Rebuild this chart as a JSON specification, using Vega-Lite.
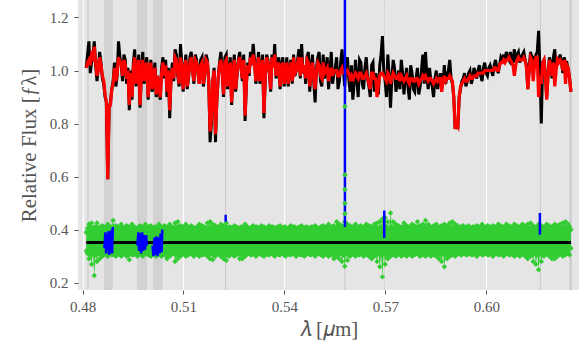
{
"$schema":"https://vega.github.io/schema/vega-lite/v6.json",
"width":501,"height":290,
"autosize":{"type":"none"},
"padding":{"left":78,"top":0,"right":5,"bottom":57},
"background":"white",
"config":{"view":{"fill":"#e5e5e5","stroke":null},
"axis":{"labelFont":"Liberation Serif","titleFont":"Liberation Serif","labelFontSize":15,"titleFontSize":21,"labelColor":"#555555","titleColor":"#555555","titleFontWeight":"normal","tickColor":"#555555","tickSize":4,"domain":false,"gridColor":"#ffffff","gridWidth":1.2}},
"datasets":{
"spec":[
{"w":0.4811,"o":1.01,"m":1.01,"h":0.39,"l":0.32},
{"w":0.4819,"o":1.11,"m":1.04,"h":0.42,"l":0.29},
{"w":0.4827,"o":1.03,"m":1.06,"h":0.425,"l":0.27},
{"w":0.4835,"o":1.11,"m":1.09,"h":0.41,"l":0.227},
{"w":0.4843,"o":0.96,"m":0.98,"h":0.425,"l":0.28},
{"w":0.4851,"o":1.07,"m":1.05,"h":0.41,"l":0.29},
{"w":0.4859,"o":0.97,"m":0.98,"h":0.415,"l":0.30},
{"w":0.4867,"o":0.90,"m":0.91,"h":0.41,"l":0.31},
{"w":0.4875,"o":0.59,"m":0.59,"h":0.42,"l":0.30},
{"w":0.4883,"o":0.88,"m":0.87,"h":0.41,"l":0.31},
{"w":0.4891,"o":0.96,"m":0.95,"h":0.435,"l":0.305},
{"w":0.4899,"o":0.94,"m":0.96,"h":0.415,"l":0.30},
{"w":0.4907,"o":1.11,"m":1.05,"h":0.41,"l":0.31},
{"w":0.4915,"o":1.02,"m":1.03,"h":0.42,"l":0.30},
{"w":0.4923,"o":1.06,"m":1.04,"h":0.405,"l":0.31},
{"w":0.4931,"o":0.95,"m":0.97,"h":0.415,"l":0.30},
{"w":0.4939,"o":0.85,"m":0.87,"h":0.41,"l":0.287},
{"w":0.4947,"o":0.89,"m":0.90,"h":0.42,"l":0.305},
{"w":0.4955,"o":1.08,"m":1.05,"h":0.41,"l":0.31},
{"w":0.4963,"o":1.00,"m":1.01,"h":0.405,"l":0.30},
{"w":0.4971,"o":0.86,"m":0.87,"h":0.415,"l":0.31},
{"w":0.4979,"o":1.07,"m":1.04,"h":0.41,"l":0.30},
{"w":0.4987,"o":1.02,"m":1.01,"h":0.42,"l":0.31},
{"w":0.4995,"o":0.89,"m":0.90,"h":0.41,"l":0.305},
{"w":0.5003,"o":1.04,"m":1.03,"h":0.415,"l":0.30},
{"w":0.5011,"o":0.97,"m":0.98,"h":0.405,"l":0.31},
{"w":0.5019,"o":0.90,"m":0.91,"h":0.41,"l":0.30},
{"w":0.5027,"o":0.93,"m":0.94,"h":0.42,"l":0.31},
{"w":0.5035,"o":1.01,"m":0.99,"h":0.41,"l":0.30},
{"w":0.5043,"o":0.97,"m":0.98,"h":0.415,"l":0.305},
{"w":0.5051,"o":0.90,"m":0.92,"h":0.41,"l":0.29},
{"w":0.5059,"o":0.82,"m":0.85,"h":0.42,"l":0.30},
{"w":0.5067,"o":1.03,"m":1.01,"h":0.41,"l":0.31},
{"w":0.5075,"o":1.08,"m":1.05,"h":0.425,"l":0.28},
{"w":0.5083,"o":0.98,"m":0.99,"h":0.43,"l":0.29},
{"w":0.5091,"o":1.10,"m":1.05,"h":0.415,"l":0.30},
{"w":0.5099,"o":0.92,"m":0.93,"h":0.41,"l":0.31},
{"w":0.5107,"o":1.06,"m":1.04,"h":0.42,"l":0.30},
{"w":0.5115,"o":0.97,"m":0.98,"h":0.41,"l":0.305},
{"w":0.5123,"o":1.07,"m":1.05,"h":0.415,"l":0.31},
{"w":0.5131,"o":0.95,"m":0.96,"h":0.405,"l":0.30},
{"w":0.5139,"o":1.04,"m":1.03,"h":0.41,"l":0.31},
{"w":0.5147,"o":0.95,"m":0.95,"h":0.42,"l":0.30},
{"w":0.5155,"o":1.05,"m":1.03,"h":0.415,"l":0.305},
{"w":0.5163,"o":0.98,"m":0.99,"h":0.41,"l":0.31},
{"w":0.5171,"o":1.04,"m":1.03,"h":0.425,"l":0.30},
{"w":0.5179,"o":0.73,"m":0.77,"h":0.43,"l":0.29},
{"w":0.5187,"o":0.96,"m":0.96,"h":0.42,"l":0.287},
{"w":0.5195,"o":0.73,"m":0.76,"h":0.415,"l":0.30},
{"w":0.5203,"o":0.97,"m":0.97,"h":0.41,"l":0.31},
{"w":0.5211,"o":1.07,"m":1.04,"h":0.42,"l":0.30},
{"w":0.5219,"o":0.90,"m":0.91,"h":0.415,"l":0.29},
{"w":0.5227,"o":1.06,"m":1.04,"h":0.425,"l":0.284},
{"w":0.5235,"o":1.01,"m":1.00,"h":0.41,"l":0.30},
{"w":0.5243,"o":0.87,"m":0.88,"h":0.405,"l":0.31},
{"w":0.5251,"o":1.06,"m":1.04,"h":0.415,"l":0.30},
{"w":0.5259,"o":0.98,"m":0.99,"h":0.41,"l":0.305},
{"w":0.5267,"o":1.07,"m":1.05,"h":0.405,"l":0.29},
{"w":0.5275,"o":0.96,"m":0.97,"h":0.41,"l":0.29},
{"w":0.5283,"o":0.81,"m":0.83,"h":0.42,"l":0.30},
{"w":0.5291,"o":1.03,"m":1.02,"h":0.41,"l":0.31},
{"w":0.5299,"o":1.07,"m":1.05,"h":0.405,"l":0.305},
{"w":0.5307,"o":1.10,"m":1.06,"h":0.415,"l":0.31},
{"w":0.5315,"o":0.95,"m":0.96,"h":0.41,"l":0.30},
{"w":0.5323,"o":1.07,"m":1.05,"h":0.405,"l":0.31},
{"w":0.5331,"o":1.01,"m":1.01,"h":0.415,"l":0.305},
{"w":0.5339,"o":0.82,"m":0.84,"h":0.41,"l":0.30},
{"w":0.5347,"o":1.06,"m":1.05,"h":0.405,"l":0.31},
{"w":0.5355,"o":0.99,"m":1.00,"h":0.415,"l":0.305},
{"w":0.5363,"o":1.06,"m":1.05,"h":0.41,"l":0.31},
{"w":0.5371,"o":1.10,"m":1.06,"h":0.405,"l":0.30},
{"w":0.5379,"o":1.00,"m":1.00,"h":0.41,"l":0.31},
{"w":0.5387,"o":0.93,"m":0.94,"h":0.415,"l":0.305},
{"w":0.5395,"o":1.05,"m":1.03,"h":0.405,"l":0.31},
{"w":0.5403,"o":0.99,"m":1.00,"h":0.41,"l":0.30},
{"w":0.5411,"o":0.94,"m":0.95,"h":0.405,"l":0.31},
{"w":0.5419,"o":1.04,"m":1.03,"h":0.415,"l":0.305},
{"w":0.5427,"o":1.06,"m":1.05,"h":0.41,"l":0.31},
{"w":0.5435,"o":1.00,"m":1.00,"h":0.405,"l":0.30},
{"w":0.5443,"o":1.08,"m":1.05,"h":0.41,"l":0.31},
{"w":0.5451,"o":1.10,"m":1.05,"h":0.415,"l":0.305},
{"w":0.5459,"o":1.02,"m":1.02,"h":0.405,"l":0.30},
{"w":0.5467,"o":1.05,"m":1.04,"h":0.41,"l":0.31},
{"w":0.5475,"o":0.92,"m":0.94,"h":0.405,"l":0.305},
{"w":0.5483,"o":1.06,"m":1.03,"h":0.41,"l":0.31},
{"w":0.5491,"o":0.88,"m":0.93,"h":0.415,"l":0.30},
{"w":0.5499,"o":1.05,"m":1.03,"h":0.405,"l":0.31},
{"w":0.5507,"o":0.96,"m":0.98,"h":0.41,"l":0.305},
{"w":0.5515,"o":1.06,"m":1.03,"h":0.415,"l":0.30},
{"w":0.5523,"o":1.00,"m":1.00,"h":0.41,"l":0.31},
{"w":0.5531,"o":0.93,"m":0.96,"h":0.42,"l":0.30},
{"w":0.5539,"o":1.07,"m":1.01,"h":0.41,"l":0.305},
{"w":0.5547,"o":0.99,"m":1.00,"h":0.415,"l":0.29},
{"w":0.5555,"o":1.05,"m":1.00,"h":0.43,"l":0.30},
{"w":0.5563,"o":0.96,"m":0.98,"h":0.42,"l":0.29},
{"w":0.5571,"o":1.08,"m":1.01,"h":0.415,"l":0.28},
{"w":0.5579,"o":0.94,"m":0.99,"h":0.43,"l":0.262},
{"w":0.5587,"o":1.05,"m":1.00,"h":0.42,"l":0.285},
{"w":0.5595,"o":0.92,"m":0.97,"h":0.415,"l":0.30},
{"w":0.5603,"o":0.89,"m":0.96,"h":0.41,"l":0.31},
{"w":0.5611,"o":1.04,"m":0.99,"h":0.42,"l":0.30},
{"w":0.5619,"o":0.90,"m":0.97,"h":0.41,"l":0.305},
{"w":0.5627,"o":1.03,"m":0.99,"h":0.415,"l":0.31},
{"w":0.5635,"o":0.93,"m":0.97,"h":0.41,"l":0.30},
{"w":0.5643,"o":1.05,"m":0.99,"h":0.42,"l":0.305},
{"w":0.5651,"o":0.94,"m":0.95,"h":0.415,"l":0.30},
{"w":0.5659,"o":1.02,"m":0.99,"h":0.41,"l":0.29},
{"w":0.5667,"o":0.92,"m":0.97,"h":0.42,"l":0.30},
{"w":0.5675,"o":0.95,"m":0.90,"h":0.425,"l":0.28},
{"w":0.5683,"o":1.02,"m":0.98,"h":0.43,"l":0.26},
{"w":0.5691,"o":1.13,"m":0.99,"h":0.44,"l":0.222},
{"w":0.5699,"o":0.96,"m":0.97,"h":0.445,"l":0.27},
{"w":0.5707,"o":1.06,"m":0.99,"h":0.43,"l":0.29},
{"w":0.5715,"o":0.86,"m":0.95,"h":0.463,"l":0.30},
{"w":0.5723,"o":1.04,"m":0.99,"h":0.43,"l":0.305},
{"w":0.5731,"o":0.92,"m":0.97,"h":0.42,"l":0.30},
{"w":0.5739,"o":1.00,"m":0.98,"h":0.415,"l":0.31},
{"w":0.5747,"o":1.04,"m":0.98,"h":0.41,"l":0.30},
{"w":0.5755,"o":0.91,"m":0.96,"h":0.425,"l":0.305},
{"w":0.5763,"o":1.01,"m":0.98,"h":0.415,"l":0.30},
{"w":0.5771,"o":0.89,"m":0.95,"h":0.41,"l":0.31},
{"w":0.5779,"o":0.99,"m":0.97,"h":0.42,"l":0.30},
{"w":0.5787,"o":0.92,"m":0.96,"h":0.415,"l":0.305},
{"w":0.5795,"o":1.01,"m":0.97,"h":0.43,"l":0.31},
{"w":0.5803,"o":0.94,"m":0.96,"h":0.415,"l":0.30},
{"w":0.5811,"o":1.06,"m":0.98,"h":0.42,"l":0.305},
{"w":0.5819,"o":1.07,"m":0.98,"h":0.435,"l":0.30},
{"w":0.5827,"o":0.93,"m":0.96,"h":0.42,"l":0.31},
{"w":0.5835,"o":0.96,"m":0.97,"h":0.41,"l":0.30},
{"w":0.5843,"o":0.90,"m":0.95,"h":0.415,"l":0.305},
{"w":0.5851,"o":1.00,"m":0.97,"h":0.42,"l":0.30},
{"w":0.5859,"o":0.96,"m":0.97,"h":0.41,"l":0.29},
{"w":0.5867,"o":0.93,"m":0.92,"h":0.415,"l":0.28},
{"w":0.5875,"o":1.02,"m":0.98,"h":0.42,"l":0.26},
{"w":0.5883,"o":0.98,"m":0.97,"h":0.415,"l":0.29},
{"w":0.5891,"o":1.04,"m":0.98,"h":0.425,"l":0.30},
{"w":0.5899,"o":0.95,"m":0.96,"h":0.43,"l":0.305},
{"w":0.5907,"o":0.78,"m":0.78,"h":0.42,"l":0.30},
{"w":0.5915,"o":0.78,"m":0.79,"h":0.415,"l":0.31},
{"w":0.5923,"o":0.93,"m":0.94,"h":0.41,"l":0.305},
{"w":0.5931,"o":0.97,"m":0.96,"h":0.415,"l":0.31},
{"w":0.5939,"o":0.94,"m":0.96,"h":0.41,"l":0.305},
{"w":0.5947,"o":0.99,"m":0.97,"h":0.415,"l":0.31},
{"w":0.5955,"o":0.95,"m":0.97,"h":0.405,"l":0.305},
{"w":0.5963,"o":1.01,"m":0.98,"h":0.41,"l":0.31},
{"w":0.5971,"o":0.97,"m":0.98,"h":0.415,"l":0.30},
{"w":0.5979,"o":1.02,"m":0.99,"h":0.41,"l":0.31},
{"w":0.5987,"o":0.96,"m":0.99,"h":0.42,"l":0.305},
{"w":0.5995,"o":1.03,"m":1.00,"h":0.41,"l":0.31},
{"w":0.6003,"o":0.98,"m":1.00,"h":0.415,"l":0.305},
{"w":0.6011,"o":1.02,"m":1.00,"h":0.41,"l":0.31},
{"w":0.6019,"o":0.98,"m":1.00,"h":0.415,"l":0.30},
{"w":0.6027,"o":1.04,"m":1.01,"h":0.41,"l":0.31},
{"w":0.6035,"o":0.99,"m":1.00,"h":0.42,"l":0.305},
{"w":0.6043,"o":1.05,"m":1.03,"h":0.415,"l":0.31},
{"w":0.6051,"o":1.06,"m":1.04,"h":0.41,"l":0.30},
{"w":0.6059,"o":1.07,"m":1.04,"h":0.42,"l":0.31},
{"w":0.6067,"o":1.04,"m":1.05,"h":0.415,"l":0.305},
{"w":0.6075,"o":1.02,"m":1.03,"h":0.41,"l":0.31},
{"w":0.6083,"o":1.08,"m":0.98,"h":0.42,"l":0.30},
{"w":0.6091,"o":1.06,"m":1.04,"h":0.415,"l":0.305},
{"w":0.6099,"o":1.03,"m":1.04,"h":0.41,"l":0.30},
{"w":0.6107,"o":1.06,"m":1.04,"h":0.42,"l":0.31},
{"w":0.6115,"o":1.04,"m":1.04,"h":0.415,"l":0.30},
{"w":0.6123,"o":0.93,"m":0.93,"h":0.42,"l":0.29},
{"w":0.6131,"o":1.07,"m":1.05,"h":0.425,"l":0.30},
{"w":0.6139,"o":1.05,"m":0.96,"h":0.415,"l":0.28},
{"w":0.6147,"o":1.06,"m":1.05,"h":0.41,"l":0.27},
{"w":0.6155,"o":1.15,"m":0.90,"h":0.42,"l":0.249},
{"w":0.6163,"o":0.80,"m":0.95,"h":0.415,"l":0.28},
{"w":0.6171,"o":1.04,"m":1.04,"h":0.41,"l":0.30},
{"w":0.6179,"o":0.90,"m":0.89,"h":0.42,"l":0.31},
{"w":0.6187,"o":1.05,"m":1.04,"h":0.415,"l":0.30},
{"w":0.6195,"o":0.97,"m":0.98,"h":0.41,"l":0.29},
{"w":0.6203,"o":1.08,"m":0.94,"h":0.42,"l":0.29},
{"w":0.6211,"o":1.03,"m":1.04,"h":0.415,"l":0.30},
{"w":0.6219,"o":1.06,"m":1.04,"h":0.42,"l":0.31},
{"w":0.6227,"o":0.99,"m":1.00,"h":0.425,"l":0.30},
{"w":0.6235,"o":1.03,"m":0.95,"h":0.43,"l":0.305},
{"w":0.6243,"o":1.00,"m":1.01,"h":0.42,"l":0.31},
{"w":0.6251,"o":0.92,"m":0.92,"h":0.40,"l":0.33},
{"w":0.4815,"o":1.06,"m":1.03,"h":0.405,"l":0.31},
{"w":0.4823,"o":0.99,"m":1.02,"h":0.41,"l":0.305},
{"w":0.4831,"o":1.06,"m":1.05,"h":0.405,"l":0.31},
{"w":0.4839,"o":1.02,"m":1.03,"h":0.41,"l":0.305},
{"w":0.4847,"o":1.01,"m":1.00,"h":0.405,"l":0.31},
{"w":0.4855,"o":1.03,"m":1.02,"h":0.41,"l":0.305},
{"w":0.4863,"o":0.95,"m":0.96,"h":0.405,"l":0.31},
{"w":0.4871,"o":0.88,"m":0.88,"h":0.41,"l":0.305},
{"w":0.4879,"o":0.86,"m":0.87,"h":0.405,"l":0.31},
{"w":0.4887,"o":0.93,"m":0.93,"h":0.41,"l":0.305},
{"w":0.4895,"o":1.03,"m":1.01,"h":0.405,"l":0.31},
{"w":0.4903,"o":0.98,"m":0.99,"h":0.41,"l":0.305},
{"w":0.4911,"o":1.05,"m":1.03,"h":0.405,"l":0.31},
{"w":0.4919,"o":0.96,"m":0.98,"h":0.41,"l":0.305},
{"w":0.4927,"o":1.04,"m":1.02,"h":0.405,"l":0.31},
{"w":0.4935,"o":1.01,"m":1.00,"h":0.41,"l":0.305},
{"w":0.4943,"o":1.00,"m":0.99,"h":0.405,"l":0.31},
{"w":0.4951,"o":1.03,"m":1.01,"h":0.41,"l":0.305},
{"w":0.4959,"o":0.94,"m":0.95,"h":0.405,"l":0.31},
{"w":0.4967,"o":1.06,"m":1.04,"h":0.41,"l":0.305},
{"w":0.4975,"o":0.99,"m":0.99,"h":0.405,"l":0.31},
{"w":0.4983,"o":0.95,"m":0.96,"h":0.41,"l":0.305},
{"w":0.4991,"o":1.05,"m":1.03,"h":0.405,"l":0.31},
{"w":0.4999,"o":0.97,"m":0.98,"h":0.41,"l":0.305},
{"w":0.5007,"o":0.92,"m":0.93,"h":0.405,"l":0.31},
{"w":0.5015,"o":1.03,"m":1.01,"h":0.41,"l":0.305},
{"w":0.5023,"o":0.98,"m":0.98,"h":0.405,"l":0.31},
{"w":0.5031,"o":0.89,"m":0.90,"h":0.41,"l":0.305},
{"w":0.5039,"o":1.05,"m":1.03,"h":0.405,"l":0.31},
{"w":0.5047,"o":1.04,"m":1.02,"h":0.41,"l":0.305},
{"w":0.5055,"o":1.01,"m":1.00,"h":0.405,"l":0.31},
{"w":0.5063,"o":0.97,"m":0.97,"h":0.41,"l":0.305},
{"w":0.5071,"o":0.96,"m":0.97,"h":0.405,"l":0.31},
{"w":0.5079,"o":1.06,"m":1.04,"h":0.41,"l":0.305},
{"w":0.5087,"o":0.94,"m":0.95,"h":0.405,"l":0.31},
{"w":0.5095,"o":1.03,"m":1.02,"h":0.41,"l":0.305},
{"w":0.5103,"o":1.00,"m":1.00,"h":0.405,"l":0.31},
{"w":0.5111,"o":0.93,"m":0.94,"h":0.41,"l":0.305},
{"w":0.5119,"o":1.05,"m":1.03,"h":0.405,"l":0.31},
{"w":0.5127,"o":1.00,"m":1.00,"h":0.41,"l":0.305},
{"w":0.5135,"o":1.06,"m":1.04,"h":0.405,"l":0.31},
{"w":0.5143,"o":0.99,"m":0.99,"h":0.41,"l":0.305},
{"w":0.5151,"o":1.04,"m":1.02,"h":0.405,"l":0.31},
{"w":0.5159,"o":0.94,"m":0.95,"h":0.41,"l":0.305},
{"w":0.5167,"o":1.06,"m":1.04,"h":0.405,"l":0.31},
{"w":0.5175,"o":0.96,"m":0.96,"h":0.41,"l":0.305},
{"w":0.5183,"o":0.80,"m":0.82,"h":0.405,"l":0.31},
{"w":0.5191,"o":1.01,"m":1.00,"h":0.41,"l":0.305},
{"w":0.5199,"o":0.88,"m":0.89,"h":0.405,"l":0.31},
{"w":0.5207,"o":1.03,"m":1.02,"h":0.41,"l":0.305},
{"w":0.5215,"o":1.00,"m":0.99,"h":0.405,"l":0.31},
{"w":0.5223,"o":1.05,"m":1.03,"h":0.41,"l":0.305},
{"w":0.5231,"o":0.93,"m":0.94,"h":0.405,"l":0.31},
{"w":0.5239,"o":1.05,"m":1.03,"h":0.41,"l":0.305},
{"w":0.5247,"o":1.00,"m":0.99,"h":0.405,"l":0.31},
{"w":0.5255,"o":0.92,"m":0.93,"h":0.41,"l":0.305},
{"w":0.5263,"o":1.04,"m":1.03,"h":0.405,"l":0.31},
{"w":0.5271,"o":1.01,"m":1.01,"h":0.41,"l":0.305},
{"w":0.5279,"o":1.06,"m":1.04,"h":0.405,"l":0.31},
{"w":0.5287,"o":0.95,"m":0.96,"h":0.41,"l":0.305},
{"w":0.5295,"o":0.98,"m":0.99,"h":0.405,"l":0.31},
{"w":0.5303,"o":1.02,"m":1.02,"h":0.41,"l":0.305},
{"w":0.5311,"o":1.04,"m":1.03,"h":0.405,"l":0.31},
{"w":0.5319,"o":1.01,"m":1.01,"h":0.41,"l":0.305},
{"w":0.5327,"o":0.95,"m":0.96,"h":0.405,"l":0.31},
{"w":0.5335,"o":1.06,"m":1.04,"h":0.41,"l":0.305},
{"w":0.5343,"o":0.97,"m":0.98,"h":0.405,"l":0.31},
{"w":0.5351,"o":1.04,"m":1.03,"h":0.41,"l":0.305},
{"w":0.5359,"o":0.92,"m":0.93,"h":0.405,"l":0.31},
{"w":0.5367,"o":1.01,"m":1.01,"h":0.41,"l":0.305},
{"w":0.5375,"o":0.97,"m":0.98,"h":0.405,"l":0.31},
{"w":0.5383,"o":1.05,"m":1.03,"h":0.41,"l":0.305},
{"w":0.5391,"o":1.02,"m":1.01,"h":0.405,"l":0.31},
{"w":0.5399,"o":0.94,"m":0.95,"h":0.41,"l":0.305},
{"w":0.5407,"o":1.05,"m":1.03,"h":0.405,"l":0.31},
{"w":0.5415,"o":1.01,"m":1.00,"h":0.41,"l":0.305},
{"w":0.5423,"o":0.95,"m":0.96,"h":0.405,"l":0.31},
{"w":0.5431,"o":0.98,"m":0.99,"h":0.41,"l":0.305},
{"w":0.5439,"o":1.04,"m":1.03,"h":0.405,"l":0.31},
{"w":0.5447,"o":0.97,"m":0.98,"h":0.41,"l":0.305},
{"w":0.5455,"o":0.99,"m":0.99,"h":0.405,"l":0.31},
{"w":0.5463,"o":0.95,"m":0.97,"h":0.41,"l":0.305},
{"w":0.5471,"o":1.07,"m":1.03,"h":0.405,"l":0.31},
{"w":0.5479,"o":1.00,"m":0.99,"h":0.41,"l":0.305},
{"w":0.5487,"o":0.96,"m":0.97,"h":0.405,"l":0.31},
{"w":0.5495,"o":1.01,"m":1.00,"h":0.41,"l":0.305},
{"w":0.5503,"o":1.07,"m":1.02,"h":0.405,"l":0.31},
{"w":0.5511,"o":0.94,"m":0.97,"h":0.41,"l":0.305},
{"w":0.5519,"o":0.97,"m":0.99,"h":0.405,"l":0.31},
{"w":0.5527,"o":1.05,"m":1.01,"h":0.41,"l":0.305},
{"w":0.5535,"o":0.99,"m":0.99,"h":0.405,"l":0.31},
{"w":0.5543,"o":0.95,"m":0.98,"h":0.41,"l":0.305},
{"w":0.5551,"o":1.01,"m":1.00,"h":0.405,"l":0.31},
{"w":0.5559,"o":0.93,"m":0.98,"h":0.41,"l":0.305},
{"w":0.5567,"o":1.03,"m":1.00,"h":0.405,"l":0.31},
{"w":0.5575,"o":1.00,"m":0.99,"h":0.41,"l":0.305},
{"w":0.5583,"o":1.03,"m":0.99,"h":0.405,"l":0.31},
{"w":0.5591,"o":0.97,"m":0.99,"h":0.41,"l":0.305},
{"w":0.5599,"o":1.02,"m":0.98,"h":0.405,"l":0.31},
{"w":0.5607,"o":0.95,"m":0.98,"h":0.41,"l":0.305},
{"w":0.5615,"o":0.97,"m":0.98,"h":0.405,"l":0.31},
{"w":0.5623,"o":1.04,"m":0.99,"h":0.41,"l":0.305},
{"w":0.5631,"o":0.95,"m":0.97,"h":0.405,"l":0.31},
{"w":0.5639,"o":1.01,"m":0.98,"h":0.41,"l":0.305},
{"w":0.5647,"o":0.97,"m":0.97,"h":0.405,"l":0.31},
{"w":0.5655,"o":0.90,"m":0.93,"h":0.41,"l":0.305},
{"w":0.5663,"o":1.03,"m":0.99,"h":0.405,"l":0.31},
{"w":0.5671,"o":0.99,"m":0.97,"h":0.41,"l":0.305},
{"w":0.5679,"o":0.91,"m":0.94,"h":0.405,"l":0.31},
{"w":0.5687,"o":1.06,"m":0.99,"h":0.41,"l":0.305},
{"w":0.5695,"o":1.00,"m":0.98,"h":0.405,"l":0.31},
{"w":0.5703,"o":0.90,"m":0.96,"h":0.41,"l":0.305},
{"w":0.5711,"o":0.98,"m":0.98,"h":0.405,"l":0.31},
{"w":0.5719,"o":0.97,"m":0.97,"h":0.41,"l":0.305},
{"w":0.5727,"o":1.01,"m":0.98,"h":0.405,"l":0.31},
{"w":0.5735,"o":0.95,"m":0.97,"h":0.41,"l":0.305},
{"w":0.5743,"o":0.93,"m":0.96,"h":0.405,"l":0.31},
{"w":0.5751,"o":0.99,"m":0.97,"h":0.41,"l":0.305},
{"w":0.5759,"o":0.97,"m":0.97,"h":0.405,"l":0.31},
{"w":0.5767,"o":0.94,"m":0.96,"h":0.41,"l":0.305},
{"w":0.5775,"o":1.02,"m":0.97,"h":0.405,"l":0.31},
{"w":0.5783,"o":0.93,"m":0.96,"h":0.41,"l":0.305},
{"w":0.5791,"o":0.97,"m":0.97,"h":0.405,"l":0.31},
{"w":0.5799,"o":0.91,"m":0.95,"h":0.41,"l":0.305},
{"w":0.5807,"o":1.00,"m":0.97,"h":0.405,"l":0.31},
{"w":0.5815,"o":0.95,"m":0.97,"h":0.41,"l":0.305},
{"w":0.5823,"o":0.98,"m":0.97,"h":0.405,"l":0.31},
{"w":0.5831,"o":1.01,"m":0.97,"h":0.41,"l":0.305},
{"w":0.5839,"o":0.94,"m":0.96,"h":0.405,"l":0.31},
{"w":0.5847,"o":0.97,"m":0.96,"h":0.41,"l":0.305},
{"w":0.5855,"o":0.93,"m":0.96,"h":0.405,"l":0.31},
{"w":0.5863,"o":0.99,"m":0.97,"h":0.41,"l":0.305},
{"w":0.5871,"o":0.96,"m":0.96,"h":0.405,"l":0.31},
{"w":0.5879,"o":0.95,"m":0.96,"h":0.41,"l":0.305},
{"w":0.5887,"o":1.00,"m":0.97,"h":0.405,"l":0.31},
{"w":0.5895,"o":0.97,"m":0.97,"h":0.41,"l":0.305},
{"w":0.5903,"o":0.90,"m":0.90,"h":0.405,"l":0.31},
{"w":0.5911,"o":0.80,"m":0.80,"h":0.41,"l":0.305},
{"w":0.5919,"o":0.90,"m":0.90,"h":0.405,"l":0.31},
{"w":0.5927,"o":0.96,"m":0.95,"h":0.41,"l":0.305},
{"w":0.5935,"o":0.99,"m":0.97,"h":0.405,"l":0.31},
{"w":0.5943,"o":0.96,"m":0.96,"h":0.41,"l":0.305},
{"w":0.5951,"o":1.00,"m":0.98,"h":0.405,"l":0.31},
{"w":0.5959,"o":0.97,"m":0.97,"h":0.41,"l":0.305},
{"w":0.5967,"o":0.99,"m":0.98,"h":0.405,"l":0.31},
{"w":0.5975,"o":1.00,"m":0.99,"h":0.41,"l":0.305},
{"w":0.5983,"o":0.98,"m":0.99,"h":0.405,"l":0.31},
{"w":0.5991,"o":1.01,"m":0.99,"h":0.41,"l":0.305},
{"w":0.5999,"o":0.99,"m":1.00,"h":0.405,"l":0.31},
{"w":0.6007,"o":1.01,"m":1.00,"h":0.41,"l":0.305},
{"w":0.6015,"o":1.00,"m":1.00,"h":0.405,"l":0.31},
{"w":0.6023,"o":1.02,"m":1.01,"h":0.41,"l":0.305},
{"w":0.6031,"o":1.01,"m":1.00,"h":0.405,"l":0.31},
{"w":0.6039,"o":1.02,"m":1.02,"h":0.41,"l":0.305},
{"w":0.6047,"o":1.04,"m":1.03,"h":0.405,"l":0.31},
{"w":0.6055,"o":1.03,"m":1.03,"h":0.41,"l":0.305},
{"w":0.6063,"o":1.05,"m":1.04,"h":0.405,"l":0.31},
{"w":0.6071,"o":1.07,"m":1.04,"h":0.41,"l":0.305},
{"w":0.6079,"o":1.04,"m":1.02,"h":0.405,"l":0.31},
{"w":0.6087,"o":1.03,"m":1.02,"h":0.41,"l":0.305},
{"w":0.6095,"o":1.07,"m":1.05,"h":0.405,"l":0.31},
{"w":0.6103,"o":1.05,"m":1.04,"h":0.41,"l":0.305},
{"w":0.6111,"o":1.07,"m":1.05,"h":0.405,"l":0.31},
{"w":0.6119,"o":1.02,"m":1.01,"h":0.41,"l":0.305},
{"w":0.6127,"o":1.01,"m":1.00,"h":0.405,"l":0.31},
{"w":0.6135,"o":1.05,"m":1.04,"h":0.41,"l":0.305},
{"w":0.6143,"o":1.02,"m":1.02,"h":0.405,"l":0.31},
{"w":0.6151,"o":1.07,"m":1.05,"h":0.41,"l":0.305},
{"w":0.6159,"o":1.00,"m":0.98,"h":0.405,"l":0.31},
{"w":0.6167,"o":1.03,"m":1.03,"h":0.41,"l":0.305},
{"w":0.6175,"o":0.99,"m":0.98,"h":0.405,"l":0.31},
{"w":0.6183,"o":0.98,"m":0.98,"h":0.41,"l":0.305},
{"w":0.6191,"o":1.03,"m":1.02,"h":0.405,"l":0.31},
{"w":0.6199,"o":1.05,"m":1.03,"h":0.41,"l":0.305},
{"w":0.6207,"o":1.01,"m":1.00,"h":0.405,"l":0.31},
{"w":0.6215,"o":1.04,"m":1.03,"h":0.41,"l":0.305},
{"w":0.6223,"o":1.03,"m":1.03,"h":0.405,"l":0.31},
{"w":0.6231,"o":1.05,"m":1.04,"h":0.41,"l":0.305},
{"w":0.6239,"o":1.03,"m":1.02,"h":0.405,"l":0.31},
{"w":0.6247,"o":0.97,"m":0.97,"h":0.41,"l":0.305}
],
"bands":[{"a":0.48639,"b":0.48897},{"a":0.49619,"b":0.49916},{"a":0.50094,"b":0.50382}],
"vlines":[{"w":0.48163,"s":1},{"w":0.52253,"s":1},{"w":0.55796,"s":1},{"w":0.56984,"s":1},{"w":0.61602,"s":1},{"w":0.625,"s":2}],
"zero":[{"w":0.4811,"r":0.352},{"w":0.6251,"r":0.352}],
"mask":[
{"w":0.4865,"r":0.33,"g":"a"},{"w":0.4868,"r":0.39,"g":"a"},{"w":0.4870,"r":0.31,"g":"a"},{"w":0.4873,"r":0.38,"g":"a"},{"w":0.4875,"r":0.32,"g":"a"},{"w":0.4877,"r":0.395,"g":"a"},{"w":0.4879,"r":0.305,"g":"a"},{"w":0.4882,"r":0.39,"g":"a"},{"w":0.4884,"r":0.31,"g":"a"},{"w":0.4886,"r":0.40,"g":"a"},{"w":0.4888,"r":0.31,"g":"a"},{"w":0.4890,"r":0.41,"g":"a"},
{"w":0.4963,"r":0.34,"g":"b"},{"w":0.4966,"r":0.39,"g":"b"},{"w":0.4968,"r":0.32,"g":"b"},{"w":0.4971,"r":0.385,"g":"b"},{"w":0.4974,"r":0.31,"g":"b"},{"w":0.4977,"r":0.39,"g":"b"},{"w":0.4980,"r":0.32,"g":"b"},{"w":0.4983,"r":0.38,"g":"b"},{"w":0.4986,"r":0.325,"g":"b"},{"w":0.4989,"r":0.38,"g":"b"},{"w":0.4991,"r":0.34,"g":"b"},
{"w":0.5008,"r":0.34,"g":"c"},{"w":0.5011,"r":0.30,"g":"c"},{"w":0.5014,"r":0.37,"g":"c"},{"w":0.5017,"r":0.305,"g":"c"},{"w":0.5020,"r":0.375,"g":"c"},{"w":0.5023,"r":0.30,"g":"c"},{"w":0.5026,"r":0.37,"g":"c"},{"w":0.5029,"r":0.31,"g":"c"},{"w":0.5032,"r":0.385,"g":"c"},{"w":0.5035,"r":0.315,"g":"c"},{"w":0.5037,"r":0.40,"g":"c"},
{"w":0.52253,"r":0.43,"g":"d"},{"w":0.52253,"r":0.456,"g":"d"},
{"w":0.55796,"r":0.41,"g":"e"},{"w":0.55796,"r":1.4,"g":"e"},
{"w":0.56964,"r":0.369,"g":"f"},{"w":0.56964,"r":0.472,"g":"f"},
{"w":0.61588,"r":0.381,"g":"h"},{"w":0.61588,"r":0.463,"g":"h"}
],
"extra":[{"w":0.55796,"r":0.864},{"w":0.55796,"r":0.607},{"w":0.55796,"r":0.551},{"w":0.55796,"r":0.50},{"w":0.55796,"r":0.46}]
},
"layer":[
{"data":{"name":"bands"},"mark":{"type":"rect","color":"#d2d2d2"},
 "encoding":{"x":{"field":"a","type":"quantitative","scale":{"domain":[0.47866,0.6275],"nice":false,"zero":false},
   "axis":{"title":"𝜆 [𝜇m]","values":[0.48,0.51,0.54,0.57,0.6],"format":".2f","labelPadding":5,"titlePadding":4}},
   "x2":{"field":"b"},
   "y":{"datum":0.1725,"type":"quantitative","scale":{"domain":[0.1725,1.2659],"nice":false,"zero":false},
   "axis":{"title":"Relative Flux [ƒλ]","values":[0.2,0.4,0.6,0.8,1.0,1.2],"format":".1f","labelPadding":6,"titlePadding":10}},
   "y2":{"datum":1.2659}}},
{"data":{"name":"vlines"},"mark":{"type":"rule","color":"#c8c8c8"},
 "encoding":{"x":{"field":"w","type":"quantitative"},"strokeWidth":{"field":"s","type":"quantitative","scale":null}}},
{"data":{"name":"spec"},"mark":{"type":"area","color":"#32cd32","opacity":1},
 "encoding":{"x":{"field":"w","type":"quantitative"},"y":{"field":"h","type":"quantitative"},"y2":{"field":"l"}}},
{"data":{"name":"spec"},"transform":[{"fold":["h","l"],"as":["k","v"]}],
 "mark":{"type":"point","shape":"diamond","filled":true,"size":30,"color":"#32cd32","opacity":1},
 "encoding":{"x":{"field":"w","type":"quantitative"},"y":{"field":"v","type":"quantitative"}}},
{"data":{"name":"zero"},"mark":{"type":"line","color":"black","strokeWidth":3},
 "encoding":{"x":{"field":"w","type":"quantitative"},"y":{"field":"r","type":"quantitative"}}},
{"data":{"name":"spec"},"mark":{"type":"line","color":"black","strokeWidth":3,"strokeJoin":"miter"},
 "encoding":{"x":{"field":"w","type":"quantitative"},"y":{"field":"o","type":"quantitative"}}},
{"data":{"name":"spec"},"mark":{"type":"line","color":"#ff0000","strokeWidth":3.2,"strokeJoin":"miter"},
 "encoding":{"x":{"field":"w","type":"quantitative"},"y":{"field":"m","type":"quantitative"}}},
{"data":{"name":"mask"},"mark":{"type":"line","color":"#0000ff","strokeWidth":2.5,"clip":true},
 "encoding":{"x":{"field":"w","type":"quantitative"},"y":{"field":"r","type":"quantitative"},"detail":{"field":"g"}}},
{"data":{"name":"extra"},"mark":{"type":"point","shape":"diamond","filled":true,"size":30,"color":"#32cd32","opacity":1},
 "encoding":{"x":{"field":"w","type":"quantitative"},"y":{"field":"r","type":"quantitative"}}}
]
}
